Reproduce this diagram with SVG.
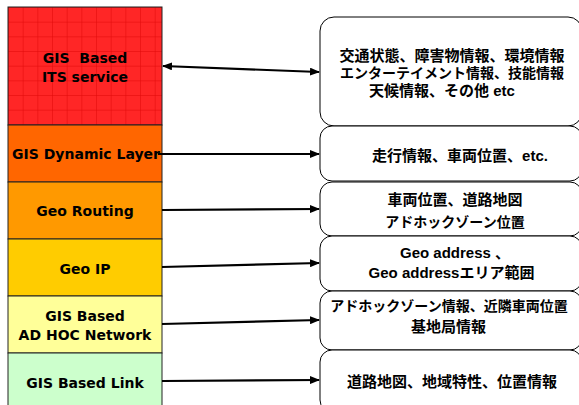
<svg xmlns="http://www.w3.org/2000/svg" width="579" height="405" viewBox="0 0 579 405">
<style>
.lt{font-family:"DejaVu Sans",Verdana,sans-serif;font-weight:bold;font-size:14px;fill:#000;text-anchor:middle}
.rt{font-family:"Liberation Sans","Noto Sans CJK JP",sans-serif;font-weight:bold;font-size:15px;fill:#000;text-anchor:middle}
.rk{font-size:14px}
.layer{stroke:#222;stroke-width:1}
.box{fill:#fff;stroke:#000;stroke-width:1}
.con{stroke:#000;stroke-width:2.2;fill:none}
</style>
<defs>
<pattern id="grid" x="8" y="7" width="14.67" height="14.67" patternUnits="userSpaceOnUse">
<rect width="14.67" height="14.67" fill="#FF2626"/>
<path d="M0 0H14.67M0 0V14.67" stroke="#E00808" stroke-width="1"/>
</pattern>
<marker id="ah" markerWidth="10" markerHeight="8" refX="9" refY="4" orient="auto" markerUnits="userSpaceOnUse">
<path d="M0 0L10 4L0 8Z" fill="#000"/>
</marker>
<marker id="ahs" markerWidth="10" markerHeight="8" refX="1" refY="4" orient="auto" markerUnits="userSpaceOnUse">
<path d="M10 0L0 4L10 8Z" fill="#000"/>
</marker>
</defs>
<rect width="579" height="405" fill="#fff"/>

<g id="layer-its">
<rect class="layer" x="8" y="7" width="154" height="118" fill="url(#grid)"/>
<text class="lt" x="85" y="63">GIS&#160; Based</text>
<text class="lt" x="85" y="82">ITS service</text>
</g>
<g id="layer-dynamic">
<rect class="layer" x="8" y="125" width="154" height="57" fill="#FF6600"/>
<text class="lt" x="86" y="159">GIS Dynamic Layer</text>
</g>
<g id="layer-routing">
<rect class="layer" x="8" y="182" width="154" height="57" fill="#FF9900"/>
<text class="lt" x="85" y="216">Geo Routing</text>
</g>
<g id="layer-geoip">
<rect class="layer" x="8" y="239" width="154" height="57" fill="#FFCC00"/>
<text class="lt" x="85" y="274">Geo IP</text>
</g>
<g id="layer-adhoc">
<rect class="layer" x="8" y="296" width="154" height="57" fill="#FFFF99"/>
<text class="lt" x="85" y="321">GIS Based</text>
<text class="lt" x="85" y="340">AD HOC Network</text>
</g>
<g id="layer-link">
<rect class="layer" x="8" y="353" width="154" height="60" fill="#CCFFCC"/>
<text class="lt" x="85" y="388">GIS Based Link</text>
</g>

<g id="box-its">
<rect class="box" x="320" y="17" width="262" height="109" rx="14"/>
<text class="rt" x="452" y="61">交通状態、障害物情報、環境情報</text>
<text class="rt rk" x="452" y="78">エンターテイメント情報、技能情報</text>
<text class="rt" x="442" y="96">天候情報、その他 etc</text>
</g>
<g id="box-dynamic">
<rect class="box" x="320" y="126" width="262" height="55" rx="12"/>
<text class="rt" x="460" y="161">走行情報、車両位置、etc.</text>
</g>
<g id="box-routing">
<rect class="box" x="320" y="182" width="262" height="54" rx="12"/>
<text class="rt" x="455" y="205">車両位置、道路地図</text>
<text class="rt rk" x="455" y="227">アドホックゾーン位置</text>
</g>
<g id="box-geoip">
<rect class="box" x="320" y="236" width="262" height="55" rx="12"/>
<text class="rt" x="455" y="258">Geo address 、</text>
<text class="rt" x="451.5" y="278">Geo addressエリア範囲</text>
</g>
<g id="box-adhoc">
<rect class="box" x="320" y="291" width="262" height="59" rx="12"/>
<text class="rt rk" x="449" y="311">アドホックゾーン情報、近隣車両位置</text>
<text class="rt" x="448.5" y="332">基地局情報</text>
</g>
<g id="box-link">
<rect class="box" x="320" y="350" width="262" height="62" rx="12"/>
<text class="rt" x="452" y="387">道路地図、地域特性、位置情報</text>
</g>

<g id="connectors">
<line class="con" x1="163" y1="66" x2="319" y2="72" marker-start="url(#ahs)" marker-end="url(#ah)"/>
<line class="con" x1="158" y1="154" x2="319" y2="154" marker-end="url(#ah)"/>
<line class="con" x1="162" y1="210" x2="319" y2="209" marker-end="url(#ah)"/>
<line class="con" x1="162" y1="267" x2="319" y2="263" marker-end="url(#ah)"/>
<line class="con" x1="162" y1="324" x2="319" y2="320" marker-end="url(#ah)"/>
<line class="con" x1="162" y1="381" x2="319" y2="380" marker-end="url(#ah)"/>
</g>
</svg>
